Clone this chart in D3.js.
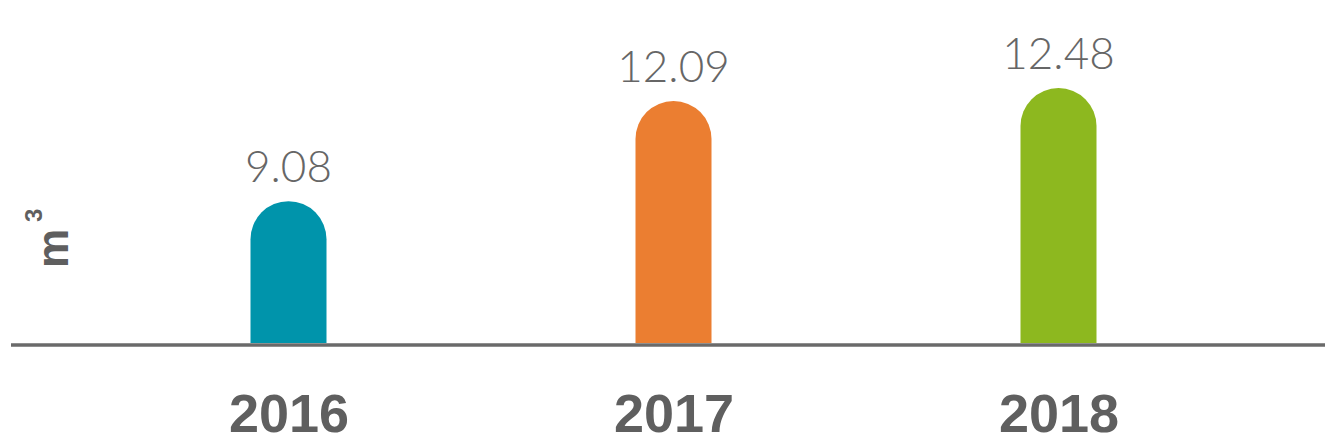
<!DOCTYPE html>
<html>
<head>
<meta charset="utf-8">
<script src="https://cdn.jsdelivr.net/npm/d3@7"></script>
<style>
  html, body { margin: 0; padding: 0; background: #fff; }
  svg { display: block; }
</style>
</head>
<body>
<svg id="chart" width="1325" height="442"></svg>
<script>
// Water consumption per year (cubic metres)
const years = ["2016", "2017", "2018"];
const values = [9.08, 12.09, 12.48];
const barColors = ["#0094ab", "#eb7e31", "#8db81f"];

const W = 1325, H = 442;
const baseY = 343;
const svg = d3.select("#chart");

const x = d3.scalePoint().domain(years).range([96, 1251]).padding(0.5);
const y = d3.scaleLinear().domain([4.82, 12.48]).range([baseY, 88]);
const color = d3.scaleOrdinal().domain(years).range(barColors);

const barW = 76, r = barW / 2;

// bar with a fully rounded top
function barPath(cx, top, bottom) {
  const x0 = cx - r, x1 = cx + r;
  return `M${x0},${bottom} L${x0},${top + r} A${r},${r} 0 0 1 ${x1},${top + r} L${x1},${bottom} Z`;
}

const data = years.map((yr, i) => ({ year: yr, value: values[i] }));

svg.selectAll("path.bar")
  .data(data)
  .join("path")
  .attr("class", "bar")
  .attr("fill", d => color(d.year))
  .attr("d", d => barPath(x(d.year), y(d.value), baseY));

// value labels above bars
svg.selectAll("text.val")
  .data(data)
  .join("text")
  .attr("class", "val")
  .attr("x", d => x(d.year))
  .attr("y", d => y(d.value) - 19)
  .attr("text-anchor", "middle")
  .attr("font-family", "Lato, 'Open Sans', sans-serif")
  .attr("font-weight", 300)
  .attr("font-size", 44)
  .attr("fill", "#666666")
  .text(d => d.value.toFixed(2));

// baseline
svg.append("line")
  .attr("x1", 11).attr("x2", W)
  .attr("y1", baseY + 2).attr("y2", baseY + 2)
  .attr("stroke", "#6a6a6a")
  .attr("stroke-width", 3.5);

// category labels
const xAxis = d3.axisBottom(x).tickSize(0).tickPadding(0);
const gx = svg.append("g").attr("transform", `translate(0,${baseY})`).call(xAxis);
gx.select(".domain").remove();
gx.selectAll("text")
  .attr("dy", null)
  .attr("y", 89)
  .attr("font-family", "'Liberation Sans', Arial, sans-serif")
  .attr("font-weight", 700)
  .attr("font-size", 54)
  .attr("fill", "#5f5f5f");

// unit label
const unit = svg.append("text")
  .attr("transform", "translate(68,268) rotate(-90)")
  .attr("font-family", "'Liberation Sans', sans-serif")
  .attr("font-weight", 700)
  .attr("fill", "#5f5f5f");
unit.append("tspan").attr("font-size", 44).text("m");
unit.append("tspan").attr("font-size", 24).attr("dx", 7).attr("dy", -26).text("3");
</script>
</body>
</html>
